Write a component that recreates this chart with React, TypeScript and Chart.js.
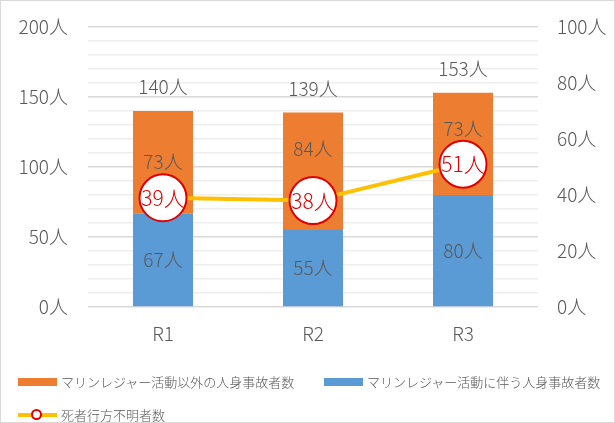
import React, { useEffect, useRef } from "react";
import { Chart, registerables } from "chart.js";

Chart.register(...registerables);

const categories = ["R1", "R2", "R3"];
const marineValues = [67, 55, 80];
const otherValues = [73, 84, 73];
const totalValues = [140, 139, 153];
const deathValues = [39, 38, 51];
const leftTicks = [0, 50, 100, 150, 200];
const rightTicks = [0, 20, 40, 60, 80, 100];

const FONT = "'Noto Sans CJK JP', 'Noto Sans', sans-serif";
const W = "300";
const GRAY = "#595959";
const RED = "#E00000";

const labelPlugin = {
  id: "labels",
  afterDatasetsDraw(chart: any) {
    const ctx = chart.ctx;
    const area = chart.chartArea;
    ctx.save();
    ctx.font = `${W} 19px ${FONT}`;
    ctx.textBaseline = "middle";
    ctx.fillStyle = GRAY;
    // axis labels
    const ys = chart.scales.y;
    const y1 = chart.scales.y1;
    const xs = chart.scales.x;
    ctx.textAlign = "right";
    leftTicks.forEach((v) => ctx.fillText(`${v}人`, area.left - 20, ys.getPixelForValue(v)));
    ctx.textAlign = "left";
    rightTicks.forEach((v) => ctx.fillText(`${v}人`, area.right + 19, y1.getPixelForValue(v)));
    ctx.textAlign = "center";
    categories.forEach((c, i) => ctx.fillText(c, xs.getPixelForValue(i), area.bottom + 27));

    // bar segment labels
    const lineMeta = chart.getDatasetMeta(2);
    [0, 1].forEach((di) => {
      const meta = chart.getDatasetMeta(di);
      const ds = chart.data.datasets[di];
      meta.data.forEach((el: any, i: number) => {
        let cy = (el.y + el.base) / 2;
        const circleY = lineMeta.data[i].y;
        if (di === 1 && Math.abs(cy - circleY) < 33) cy = el.y + 36;
        ctx.fillText(`${ds.data[i]}人`, el.x, cy);
      });
    });
    // totals
    const m0 = chart.getDatasetMeta(0);
    totalValues.forEach((v, i) => {
      ctx.fillText(`${v}人`, m0.data[i].x, ys.getPixelForValue(v) - 24);
    });
    ctx.restore();
  },
  afterDraw(chart: any) {
    const ctx = chart.ctx;
    ctx.save();
    ctx.font = `${W} 21px ${FONT}`;
    ctx.textAlign = "center";
    ctx.textBaseline = "middle";
    const meta = chart.getDatasetMeta(2);
    const ds = chart.data.datasets[2];
    meta.data.forEach((el: any, i: number) => {
      ctx.fillStyle = RED;
      ctx.fillText(`${ds.data[i]}人`, el.x, el.y);
    });
    ctx.restore();
  },
};

export default function App() {
  const ref = useRef<HTMLCanvasElement>(null);
  useEffect(() => {
    const chart = new Chart(ref.current!, {
      type: "bar",
      data: {
        labels: categories,
        datasets: [
          {
            label: "マリンレジャー活動に伴う人身事故者数",
            data: marineValues,
            backgroundColor: "#5B9BD5",
            stack: "s",
            order: 2,
            yAxisID: "y",
            barPercentage: 0.8,
            categoryPercentage: 0.5,
          },
          {
            label: "マリンレジャー活動以外の人身事故者数",
            data: otherValues,
            backgroundColor: "#ED7D31",
            stack: "s",
            order: 2,
            yAxisID: "y",
            barPercentage: 0.8,
            categoryPercentage: 0.5,
          },
          {
            type: "line",
            label: "死者行方不明者数",
            data: deathValues,
            borderColor: "#FFC000",
            borderWidth: 4,
            pointRadius: 23.5,
            pointBackgroundColor: "#FFFFFF",
            pointBorderColor: RED,
            pointBorderWidth: 2,
            order: 0,
            yAxisID: "y1",
          } as any,
        ],
      },
      options: {
        animation: false,
        responsive: false,
        layout: { autoPadding: false, padding: { top: 27, left: 0, right: 0, bottom: 0 } },
        plugins: { legend: { display: false }, tooltip: { enabled: false } },
        scales: {
          x: {
            stacked: true,
            grid: { display: false },
            border: { display: false },
            ticks: { display: false },
            afterFit: (s: any) => {
              s.height = 116;
            },
          },
          y: {
            stacked: true,
            position: "left",
            min: 0,
            max: 200,
            afterBuildTicks: (s: any) => {
              const t = [];
              for (let v = 0; v <= 200; v += 10) t.push({ value: v });
              s.ticks = t;
            },
            ticks: { display: false, autoSkip: false },
            grid: {
              drawTicks: false,
              color: (c: any) => (c.tick && c.tick.value % 50 === 0 ? "#D9D9D9" : "#EEEEEE"),
              lineWidth: 1.5,
            },
            border: { display: false },
            afterFit: (s: any) => {
              s.width = 88;
            },
          },
          y1: {
            position: "right",
            min: 0,
            max: 100,
            ticks: { display: false },
            grid: { drawOnChartArea: false, drawTicks: false },
            border: { display: false },
            afterFit: (s: any) => {
              s.width = 77;
            },
          },
        },
      } as any,
      plugins: [labelPlugin],
    });
    return () => chart.destroy();
  }, []);

  const legendText: React.CSSProperties = {
    position: "absolute",
    fontFamily: FONT,
    fontWeight: 300,
    fontSize: 13,
    color: GRAY,
    lineHeight: "16px",
    whiteSpace: "nowrap",
  };

  return (
    <div
      style={{
        position: "absolute",
        left: 0,
        top: 0,
        width: 615,
        height: 423,
        background: "#fff",
        overflow: "hidden",
      }}
    >
      <canvas ref={ref} width={615} height={423} style={{ position: "absolute", left: 0, top: 0 }} />
      <div style={{ position: "absolute", left: 0, top: 0, width: 613, height: 421, border: "1px solid #D9D9D9" }} />
      <div style={{ position: "absolute", left: 18, top: 378, width: 39, height: 8, background: "#ED7D31" }} />
      <div style={{ ...legendText, left: 61, top: 374 }}>マリンレジャー活動以外の人身事故者数</div>
      <div style={{ position: "absolute", left: 324, top: 378, width: 39, height: 8, background: "#5B9BD5" }} />
      <div style={{ ...legendText, left: 367, top: 374 }}>マリンレジャー活動に伴う人身事故者数</div>
      <div style={{ position: "absolute", left: 18, top: 413, width: 39, height: 4, background: "#FFC000" }} />
      <div
        style={{
          position: "absolute",
          left: 31,
          top: 409,
          width: 7,
          height: 7,
          borderRadius: "50%",
          background: "#fff",
          border: `2px solid ${RED}`,
        }}
      />
      <div style={{ ...legendText, left: 61, top: 407 }}>死者行方不明者数</div>
    </div>
  );
}
